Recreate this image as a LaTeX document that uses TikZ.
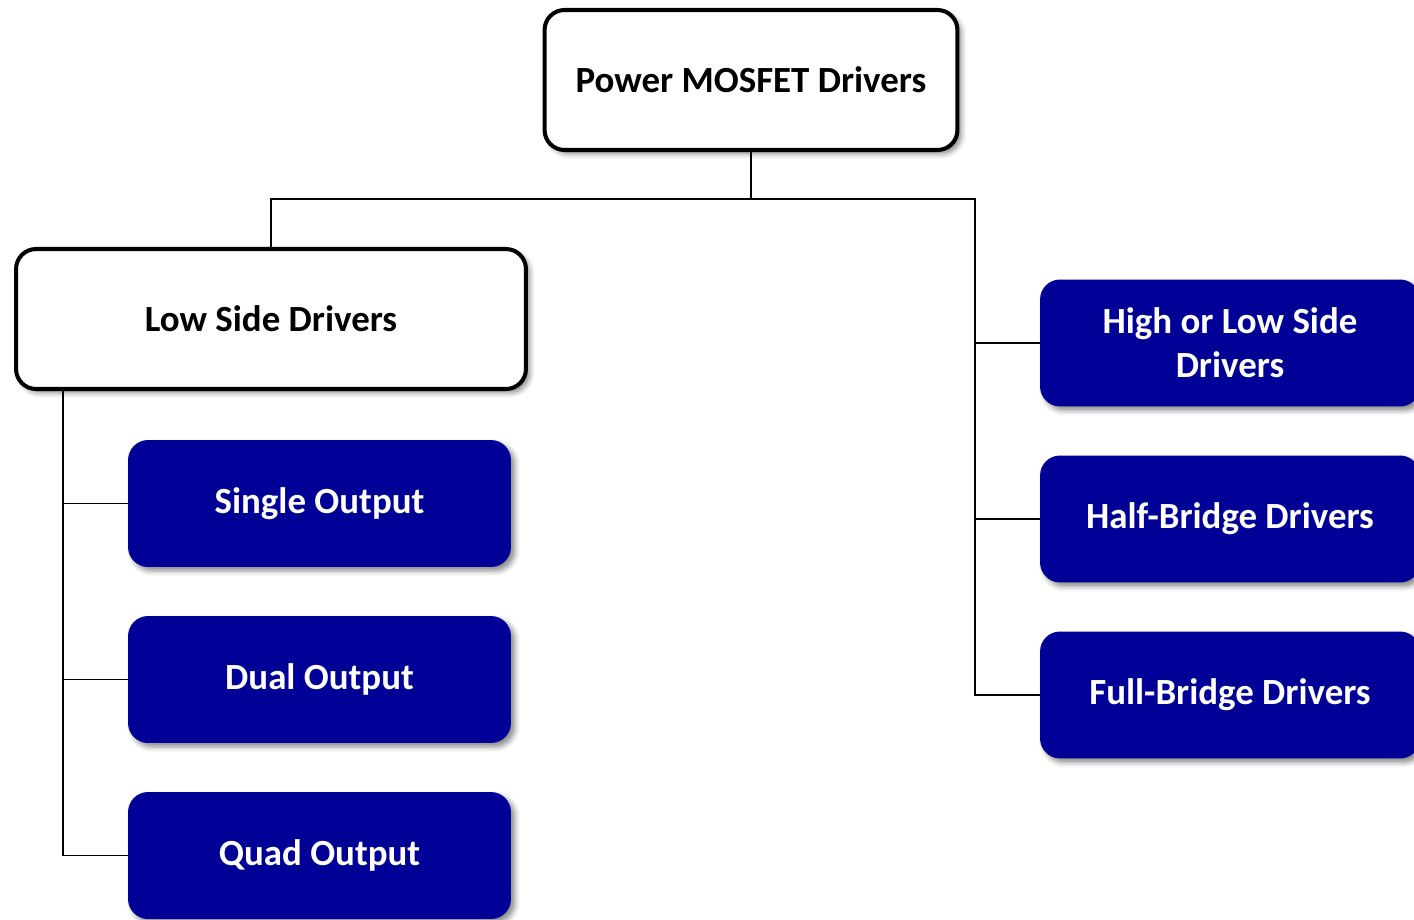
\documentclass[tikz,border=0pt]{standalone}
\usepackage{fontspec}
\setmainfont{Carlito}
\usetikzlibrary{positioning,shadows,shadows.blur}
\definecolor{drvblue}{RGB}{0,0,150}

\begin{document}
\begin{tikzpicture}[x=0.02cm,y=-0.02cm,
  headbox/.style={draw=black,line width=2.3pt,rounded corners=0.4cm,fill=white,align=center,minimum height=2.8cm,font=\fontsize{21}{25}\selectfont\bfseries,blur shadow={shadow xshift=0.08cm,shadow yshift=-0.08cm,shadow blur radius=0.1cm,shadow opacity=45}},
  leafbox/.style={fill=drvblue,rounded corners=0.4cm,text=white,align=center,minimum width=7.66cm,minimum height=2.54cm,font=\fontsize{21}{25}\selectfont\bfseries,blur shadow={shadow xshift=0.08cm,shadow yshift=-0.08cm,shadow blur radius=0.1cm,shadow opacity=45}},
  wire/.style={line width=1.1pt,black}
]
\useasboundingbox (0,0) rectangle (1414,920);
\node[headbox,minimum width=8.26cm] (power) at (751,80) {Power MOSFET Drivers};
\node[headbox,minimum width=10.2cm] (low) at (271,319) {Low Side Drivers};
\node[leafbox] (single) at (319.5,503.5) {Single Output};
\node[leafbox] (dual) at (319.5,679.5) {Dual Output};
\node[leafbox] (quad) at (319.5,855.5) {Quad Output};
\node[leafbox,minimum width=7.6cm] (highlow) at (1230,343) {High or Low Side\\Drivers};
\node[leafbox,minimum width=7.6cm] (half) at (1230,519) {Half-Bridge Drivers};
\node[leafbox,minimum width=7.6cm] (full) at (1230,695) {Full-Bridge Drivers};
\coordinate (rbus) at (975,199);
\coordinate (ltrunk) at (63,391);
\draw[wire] (power.south) |- (rbus) |- (full.west);
\draw[wire] (power.south) |- (low.north |- rbus) -- (low.north);
\draw[wire] (rbus |- highlow.west) -- (highlow.west);
\draw[wire] (rbus |- half.west) -- (half.west);
\draw[wire] (ltrunk) |- (quad.west);
\draw[wire] (ltrunk |- single.west) -- (single.west);
\draw[wire] (ltrunk |- dual.west) -- (dual.west);
\end{tikzpicture}
\end{document}
